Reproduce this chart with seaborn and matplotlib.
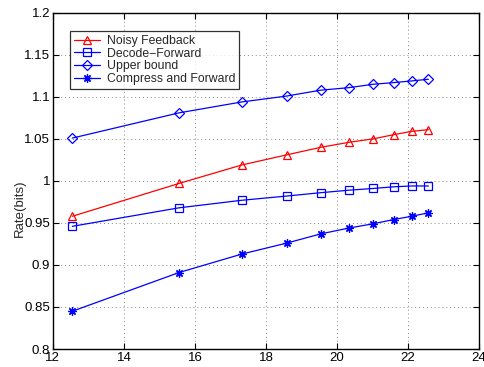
import matplotlib
matplotlib.use("Agg")
import matplotlib.pyplot as plt
import seaborn as sns

# SNR (dB) points shared by all curves
snr = [12.55, 15.55, 17.32, 18.58, 19.54, 20.34, 21.01, 21.59, 22.10, 22.57]

noisy_feedback = [0.958, 0.997, 1.019, 1.031, 1.040, 1.046, 1.050, 1.055, 1.059, 1.061]
decode_forward = [0.946, 0.968, 0.977, 0.982, 0.986, 0.989, 0.991, 0.993, 0.994, 0.994]
upper_bound = [1.051, 1.081, 1.094, 1.101, 1.108, 1.111, 1.115, 1.117, 1.119, 1.121]
compress_forward = [0.845, 0.891, 0.913, 0.926, 0.937, 0.944, 0.949, 0.954, 0.958, 0.962]

series = [
    ("Noisy Feedback", noisy_feedback, "#ff0000", "^"),
    ("Decode\u2212Forward", decode_forward, "#0000ff", "s"),
    ("Upper bound", upper_bound, "#0000ff", "D"),
    ("Compress and Forward", compress_forward, "#0000ff", (8, 2, 0)),
]


def main():
    sns.set_theme(style="white")
    plt.rcParams["font.family"] = ["Liberation Sans", "DejaVu Sans"]

    fig = plt.figure(figsize=(4.85, 3.67), dpi=100)
    ax = fig.add_axes([0.109, 0.049, 0.879, 0.916])

    for label, values, color, marker in series:
        size = 6 if marker != "D" else 5
        sns.lineplot(
            x=snr, y=values, ax=ax, color=color, marker=marker, label=label,
            linewidth=0.9, markersize=size, markerfacecolor="none",
            markeredgecolor=color, markeredgewidth=0.9,
        )

    ax.set_xlim(12, 24)
    ax.set_ylim(0.8, 1.2)
    ax.set_xticks(range(12, 25, 2))
    ax.set_yticks([0.8, 0.85, 0.9, 0.95, 1.0, 1.05, 1.1, 1.15, 1.2])
    ax.set_yticklabels(["0.8", "0.85", "0.9", "0.95", "1", "1.05", "1.1", "1.15", "1.2"])

    ax.grid(True, linestyle=(0, (1, 3)), color="#888888", linewidth=0.7)
    ax.tick_params(direction="in", length=4, width=0.8, labelsize=9.5,
                   top=True, right=True, bottom=True, left=True, pad=2,
                   colors="black")
    for spine in ax.spines.values():
        spine.set_color("black")
        spine.set_linewidth(1.0)

    # the original label sits low and runs into the 0.95 tick label
    ax.set_ylabel("Rate(bits)", fontsize=9.5)
    ax.yaxis.set_label_coords(-0.064, 0.42)
    ax.set_xlabel("")

    leg = ax.legend(
        loc="upper left", bbox_to_anchor=(0.04, 0.945), borderaxespad=0,
        fontsize=8.8, frameon=True, fancybox=False, edgecolor="black",
        handlelength=2.2, handletextpad=0.5, labelspacing=0.05,
        borderpad=0.3,
    )
    leg.get_frame().set_linewidth(0.9)

    fig.savefig("out.png", dpi=100)


if __name__ == "__main__":
    main()
